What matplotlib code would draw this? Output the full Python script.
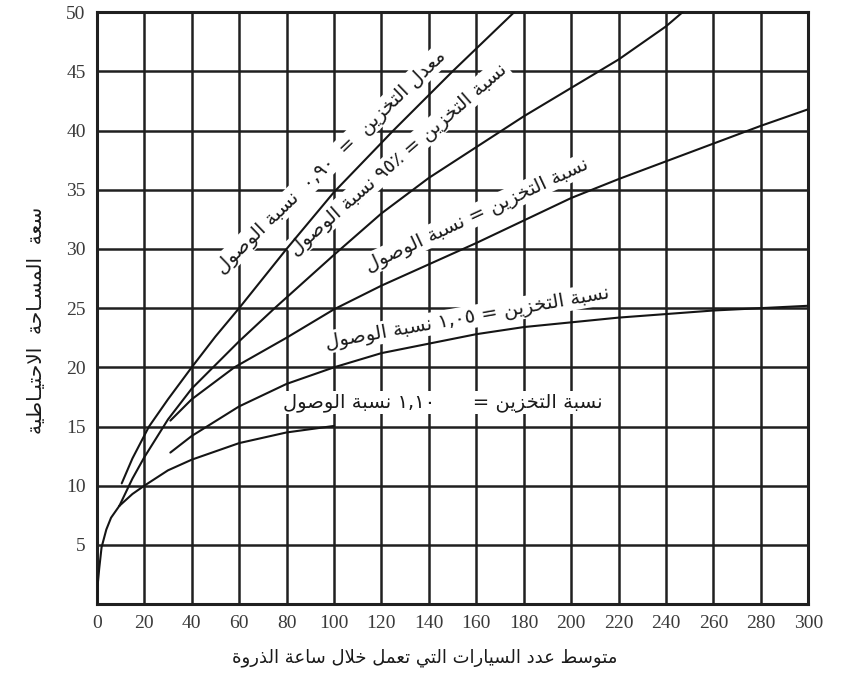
import numpy as np
import matplotlib
matplotlib.use("Agg")
import matplotlib.pyplot as plt

plt.rcParams['font.family'] = ['Liberation Serif', 'DejaVu Sans']

# ---------------- data ----------------
trunk_x = [0, 0.3, 1, 2, 4, 6, 9.5]
trunk_y = [0, 1.5, 3.0, 4.8, 6.3, 7.3, 8.3]

a_x = [10.5, 15, 22, 30, 40, 50, 60, 80, 100, 125, 150, 176]
a_y = [10.2, 12.3, 15.0, 17.3, 20.0, 22.6, 25.0, 30.0, 34.8, 40.0, 45.0, 50.0]

b_x = [9.5, 15, 20, 30, 40, 50, 60, 75, 100, 120, 140, 160, 180, 200, 220, 240, 247]
b_y = [8.3, 10.6, 12.4, 15.6, 18.2, 20.2, 22.2, 25.0, 29.5, 33.0, 36.0, 38.6, 41.2, 43.6, 46.0, 48.8, 50.0]

c_x = [31, 40, 58, 80, 100, 120, 140, 160, 180, 200, 220, 240, 260, 280, 300]
c_y = [15.5, 17.3, 20.0, 22.5, 24.9, 26.9, 28.7, 30.5, 32.4, 34.3, 35.9, 37.4, 38.9, 40.4, 41.8]

d_x = [31, 40, 60, 80, 100, 120, 140, 160, 180, 200, 220, 240, 260, 280, 300]
d_y = [12.8, 14.2, 16.7, 18.6, 20.0, 21.2, 22.0, 22.8, 23.4, 23.8, 24.2, 24.5, 24.8, 25.0, 25.2]

e_x = [9.5, 15, 20, 30, 40, 60, 80, 100]
e_y = [8.3, 9.3, 10.0, 11.3, 12.2, 13.6, 14.5, 15.05]

x_ticks = list(range(0, 301, 20))
y_ticks = list(range(5, 51, 5))

x_label = "متوسط عدد السيارات التي تعمل خلال ساعة الذروة"
y_label = "سعة  المسـاحة  الاحتيـاطية"
label_a = "معدل التخزين  =  ٠,٩٠  نسبة الوصول"
label_b = "نسبة التخزين = ٩٥٪ نسبة الوصول"
label_c = "نسبة التخزين = نسبة الوصول"
label_d = "نسبة التخزين = ١,٠٥ نسبة الوصول"
label_e = "نسبة التخزين =      ١,١٠ نسبة الوصول"

# label centres (data coords) and text angles (degrees on screen)
lab_a_pos, lab_a_ang = (98.5, 37.4), 44
lab_b_pos, lab_b_ang = (127, 37.6), 41
lab_c_pos, lab_c_ang = (160, 32.9), 25
lab_d_pos, lab_d_ang = (156, 24.2), 10
lab_e_pos, lab_e_ang = (146, 17.0), 0

# ---------------- minimal Arabic shaping ----------------
def _dual(base):
    return (base, base + 1, base + 2, base + 3)

AR = {
    '\u0627': (0xFE8D, 0xFE8E, None, None),
    '\u0623': (0xFE83, 0xFE84, None, None),
    '\u0625': (0xFE87, 0xFE88, None, None),
    '\u0622': (0xFE81, 0xFE82, None, None),
    '\u0628': _dual(0xFE8F),
    '\u0629': (0xFE93, 0xFE94, None, None),
    '\u062A': _dual(0xFE95),
    '\u062B': _dual(0xFE99),
    '\u062C': _dual(0xFE9D),
    '\u062D': _dual(0xFEA1),
    '\u062E': _dual(0xFEA5),
    '\u062F': (0xFEA9, 0xFEAA, None, None),
    '\u0630': (0xFEAB, 0xFEAC, None, None),
    '\u0631': (0xFEAD, 0xFEAE, None, None),
    '\u0632': (0xFEAF, 0xFEB0, None, None),
    '\u0633': _dual(0xFEB1),
    '\u0634': _dual(0xFEB5),
    '\u0635': _dual(0xFEB9),
    '\u0636': _dual(0xFEBD),
    '\u0637': _dual(0xFEC1),
    '\u0638': _dual(0xFEC5),
    '\u0639': _dual(0xFEC9),
    '\u063A': _dual(0xFECD),
    '\u0640': (0x0640, 0x0640, 0x0640, 0x0640),
    '\u0641': _dual(0xFED1),
    '\u0642': _dual(0xFED5),
    '\u0643': _dual(0xFED9),
    '\u0644': _dual(0xFEDD),
    '\u0645': _dual(0xFEE1),
    '\u0646': _dual(0xFEE5),
    '\u0647': _dual(0xFEE9),
    '\u0648': (0xFEED, 0xFEEE, None, None),
    '\u0649': (0xFEEF, 0xFEF0, None, None),
    '\u064A': _dual(0xFEF1),
}
LAM_ALEF = {'\u0627': (0xFEFB, 0xFEFC), '\u0623': (0xFEF7, 0xFEF8),
            '\u0625': (0xFEF9, 0xFEFA), '\u0622': (0xFEF5, 0xFEF6)}


def shape_word(w):
    units = []
    i = 0
    while i < len(w):
        c = w[i]
        if c == '\u0644' and i + 1 < len(w) and w[i + 1] in LAM_ALEF:
            units.append(('LA', w[i + 1]))
            i += 2
        else:
            units.append(('C', c))
            i += 1

    def is_dual(u):
        return u[0] == 'C' and u[1] in AR and AR[u[1]][2] is not None

    def is_letter(u):
        return u[0] == 'LA' or u[1] in AR

    res = []
    for k, u in enumerate(units):
        prev_j = k > 0 and is_dual(units[k - 1]) and is_letter(u)
        if u[0] == 'LA':
            iso, fin = LAM_ALEF[u[1]]
            res.append(chr(fin if prev_j else iso))
            continue
        c = u[1]
        if c not in AR:
            res.append(c)
            continue
        f = AR[c]
        next_j = is_dual(u) and k + 1 < len(units) and is_letter(units[k + 1])
        if prev_j and next_j:
            g = f[3]
        elif prev_j:
            g = f[1]
        elif next_j:
            g = f[2]
        else:
            g = f[0]
        res.append(chr(g))
    return ''.join(reversed(res))


def ar(text):
    toks = text.split(' ')
    out = []
    for t in reversed(toks):
        if any(ch in AR for ch in t):
            out.append(shape_word(t))
        else:
            out.append(t)
    return ' '.join(out)

# ---------------- figure ----------------
fig = plt.figure(figsize=(8.42, 6.75), dpi=100)
ax = fig.add_axes([0.115, 0.105, 0.845, 0.877])
ax.set_xlim(0, 300)
ax.set_ylim(0, 50)
ax.set_xticks(x_ticks)
ax.set_yticks(y_ticks)
ax.set_xticklabels([str(v) for v in x_ticks], fontsize=14, color='#3a3a3a')
ax.set_yticklabels([str(v) for v in y_ticks], fontsize=14, color='#3a3a3a')
ax.tick_params(length=0, pad=8)
ax.grid(True, color='#202020', lw=1.8, zorder=1)
ax.set_axisbelow(True)
for s in ax.spines.values():
    s.set_linewidth(2.2)
    s.set_color('#202020')

line_kw = dict(color='#151515', lw=1.5, zorder=5, solid_capstyle='round')
ax.plot(trunk_x, trunk_y, **line_kw)
ax.plot(a_x, a_y, **line_kw)
ax.plot(b_x, b_y, **line_kw)
ax.plot(c_x, c_y, **line_kw)
ax.plot(d_x, d_y, **line_kw)
ax.plot(e_x, e_y, **line_kw)


def curve_label(text, pos, angle):
    ax.text(pos[0], pos[1], ar(text), fontsize=14, family='DejaVu Sans',
            color='#1a1a1a', rotation=angle, rotation_mode='anchor',
            ha='center', va='center', zorder=3,
            bbox=dict(boxstyle='square,pad=0.1', fc='white', ec='none'))


curve_label(label_a, lab_a_pos, lab_a_ang)
curve_label(label_b, lab_b_pos, lab_b_ang)
curve_label(label_c, lab_c_pos, lab_c_ang)
curve_label(label_d, lab_d_pos, lab_d_ang)
curve_label(label_e, lab_e_pos, lab_e_ang)

ax.set_xlabel(ar(x_label), fontsize=13, family='DejaVu Sans', color='#1a1a1a')
ax.xaxis.set_label_coords(0.461, -0.075)
ax.set_ylabel(ar(y_label), fontsize=14.5, family='DejaVu Sans', color='#1a1a1a')
ax.yaxis.set_label_coords(-0.072, 0.48)

fig.savefig('out.png', dpi=100)
